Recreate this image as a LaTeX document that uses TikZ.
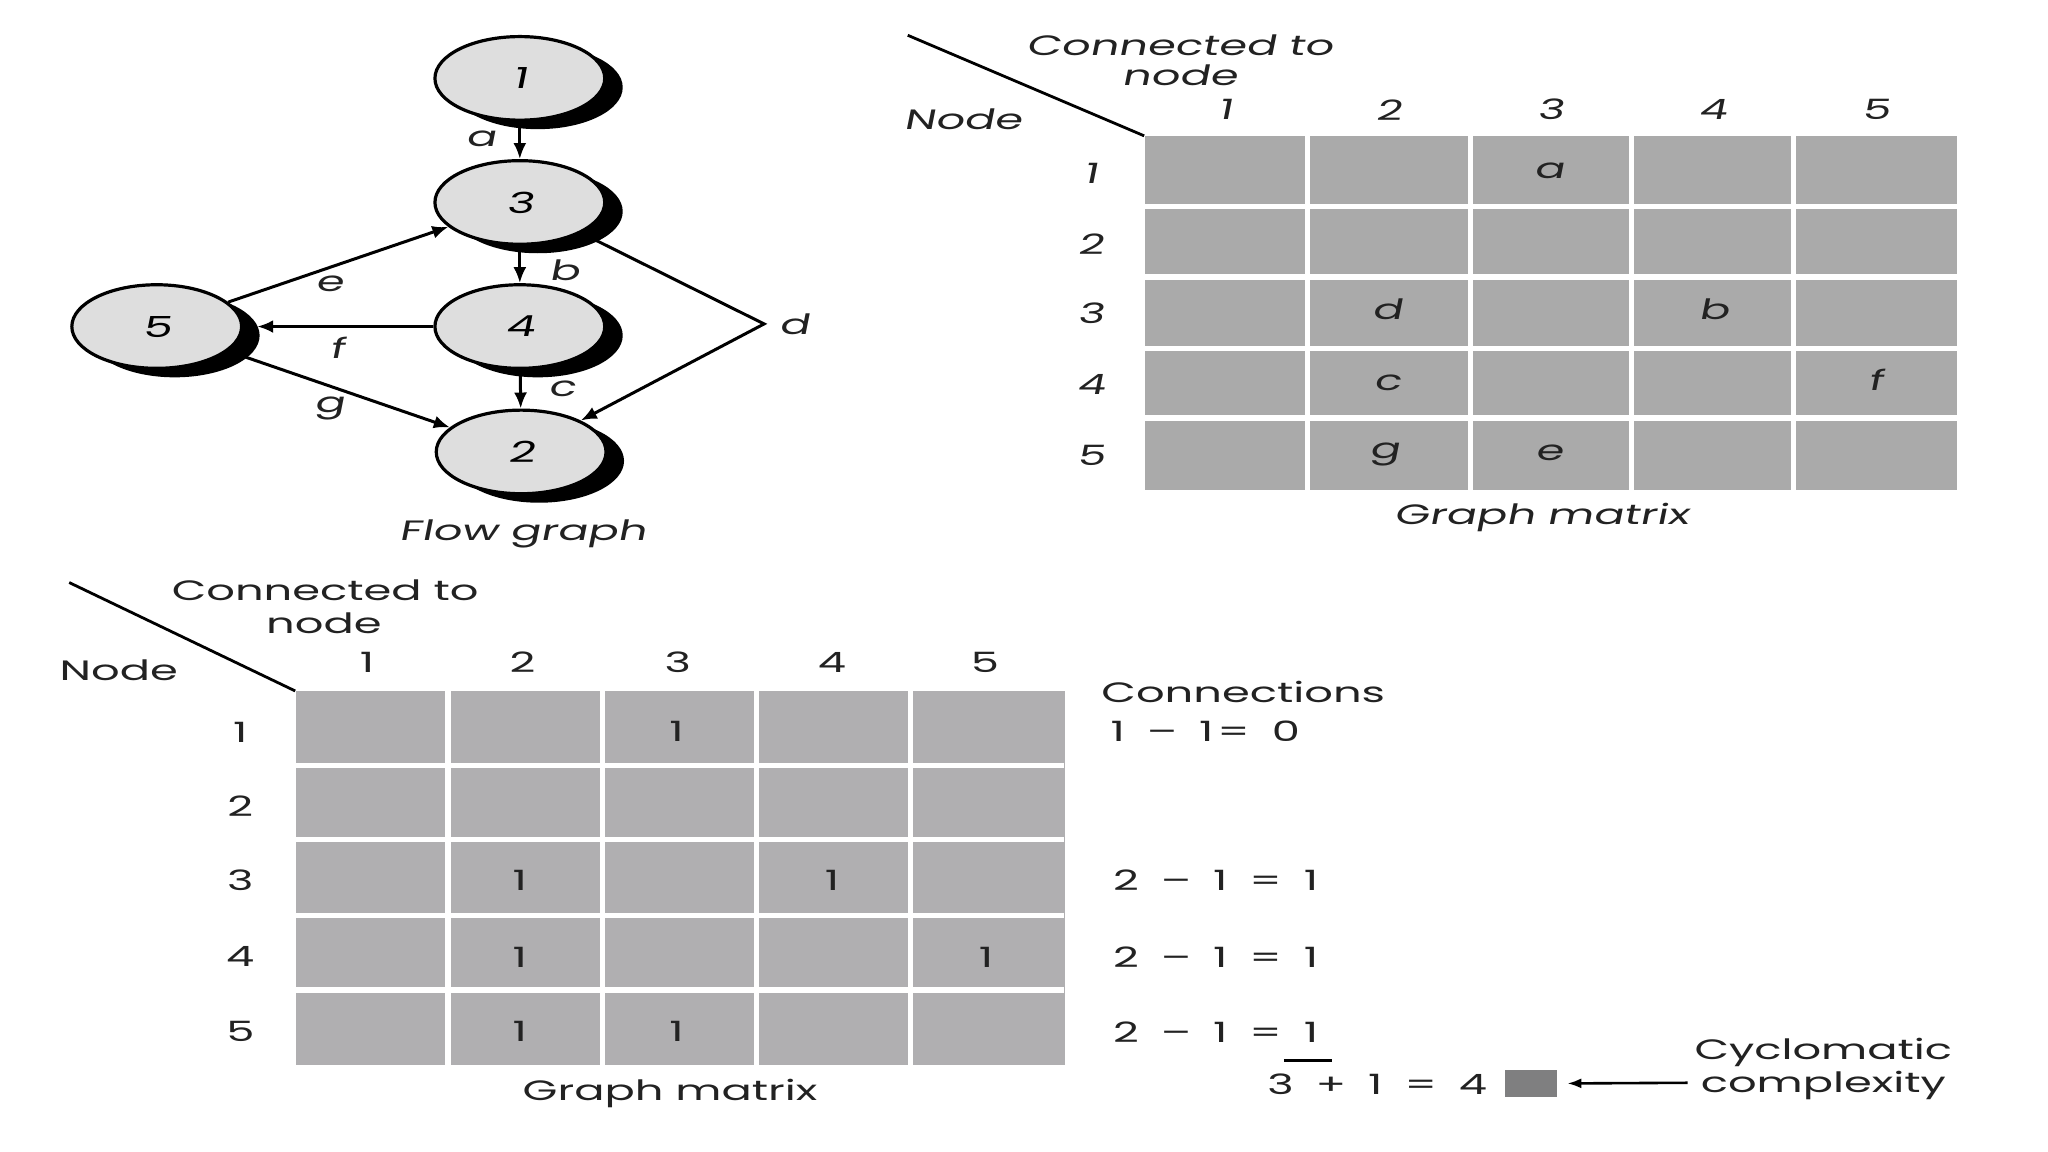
\documentclass[tikz,border=0pt]{standalone}
\usepackage{fontspec}
\setmainfont[FakeStretch=1.6]{Poppins}
\newfontfamily\obl[FakeStretch=1.6,FakeSlant=0.2]{Poppins}
\usetikzlibrary{shapes.geometric,shadows,arrows.meta}
\definecolor{nodefill}{HTML}{DEDEDE}
\definecolor{cellA}{HTML}{AAAAAA}
\definecolor{cellB}{HTML}{B0AFB1}
\definecolor{ccgray}{HTML}{7F7F80}
\definecolor{txt}{HTML}{222222}
\def\u{0.6531pt}
\newcommand{\eqg}{\hspace{5pt}}
\begin{document}
\begin{tikzpicture}[x=0.6531pt,y=-0.6531pt,
  fg/.style={ellipse, draw=black, line width=1.6pt, fill=nodefill,
    minimum width=130*\u, minimum height=64*\u, inner sep=0pt,
    font=\obl\fontsize{14.5}{16}\selectfont,
    drop shadow={shadow xshift=9pt, shadow yshift=-4.5pt, fill=black, opacity=1}},
  fedge/.style={line width=1.5pt, -{Latex[length=8pt,width=6.5pt]}},
  plainline/.style={line width=1.4pt},
  otext/.style={inner sep=0pt, text=txt, font=\obl\fontsize{14}{16}\selectfont},
  utext/.style={inner sep=0pt, text=txt, font=\fontsize{14}{16}\selectfont},
  gridA/.style={fill=cellA, inner sep=0pt, anchor=north west},
  gridB/.style={fill=cellB, inner sep=0pt, anchor=north west},
  sep/.style={white, line width=2.6pt}
]
\useasboundingbox (0,0) rectangle (1568,882);
\fill[white] (0,0) rectangle (1568,882);

% ---------------- Flow graph ----------------
\node[fg] (n1) at (398,60) {1};
\node[fg] (n3) at (398,155) {3};
\node[fg] (n4) at (398,250) {4};
\node[fg] (n2) at (399,346) {2};
\node[fg] (n5) at (120,250) {5};
\coordinate (dpt) at (585,248);

\draw[fedge] (n1) -- (n3);
\draw[fedge] (n3) -- (n4);
\draw[fedge] (n4) -- (n2);
\draw[fedge] (n3) -- (dpt) -- (n2);
\draw[fedge] (n5) -- (n3);
\draw[fedge] (n4.west) -- ([xshift=7pt]n5.east);
\draw[fedge] (n5) -- (n2);

\node[otext] (la) at (368,106) {a};
\node[otext] (lb) at (432,207) {b};
\node[otext] (lc) at (430,298) {c};
\node[otext] (ld) at (608,248) {d};
\node[otext] (le) at (252,217) {e};
\node[otext] (lf) at (258,266) {f};
\node[otext] (lg) at (252,313) {g};
\node[otext] (fgcap) at (400,409) {Flow graph};

% ---------------- Top graph matrix ----------------
\node[gridA, minimum width=622*\u, minimum height=271*\u] (ga) at (876,104) {};
\foreach \x in {1001,1126,1249,1373} \draw[sep] (\x,104) -- (\x,375);
\foreach \y in {158,212,267,320} \draw[sep] (876,\y) -- (1498,\y);
\coordinate (gadiag) at (695,27);
\draw[plainline] (gadiag) -- (ga.north west);
\node[otext] (ga-ct) at (903,35) {Connected to};
\node[otext] (ga-cn) at (903,58) {node};
\node[otext] (ga-nd) at (737,91) {Node};
\foreach \x/\t in {938/1,1063/2,1187/3,1311/4,1436/5}
  \node[otext] (ga-c\t) at (\x,84) {\t};
\foreach \y/\t in {133/1,187/2,240/3,294/4,349/5}
  \node[otext] (ga-r\t) at (835,\y) {\t};
\node[otext] (ga-a) at (1186,131) {a};
\node[otext] (ga-d) at (1062,237) {d};
\node[otext] (ga-b) at (1312,237) {b};
\node[otext] (ga-c) at (1062,293) {c};
\node[otext] (ga-f) at (1436,291) {f};
\node[otext] (ga-g) at (1060,348) {g};
\node[otext] (ga-e) at (1186,347) {e};
\node[otext] (ga-cap) at (1180,396) {Graph matrix};

% ---------------- Bottom graph matrix ----------------
\node[gridB, minimum width=589*\u, minimum height=286*\u] (gb) at (226,529) {};
\foreach \x in {343,461,579,697} \draw[sep] (\x,529) -- (\x,815);
\foreach \y in {586,643,701,758} \draw[sep] (226,\y) -- (815,\y);
\coordinate (gbdiag) at (53,446);
\draw[plainline] (gbdiag) -- (gb.north west);
\node[utext] (gb-ct) at (249,452) {Connected to};
\node[utext] (gb-cn) at (248,477) {node};
\node[utext] (gb-nd) at (91,513) {Node};
\foreach \x/\t in {281/1,400/2,519/3,637/4,754/5}
  \node[utext] (gb-c\t) at (\x,507) {\t};
\foreach \y/\t in {561/1,617/2,674/3,732/4,790/5}
  \node[utext] (gb-r\t) at (184,\y) {\t};
\node[utext] (gb-e13) at (518,560) {1};
\node[utext] (gb-e32) at (398,674) {1};
\node[utext] (gb-e34) at (637,674) {1};
\node[utext] (gb-e42) at (398,733) {1};
\node[utext] (gb-e45) at (755,733) {1};
\node[utext] (gb-e52) at (398,790) {1};
\node[utext] (gb-e53) at (518,790) {1};
\node[utext] (gb-cap) at (513,837) {Graph matrix};

% ---------------- Connections ----------------
\node[utext, anchor=west] (cn) at (843,530) {Connections};
\node[utext, anchor=west] (cn1) at (850,560) {1\eqg{} –\eqg{} 1\hspace{2pt}=\eqg{} 0};
\node[utext, anchor=west] (cn3) at (852,674) {2\eqg{} –\eqg{} 1\eqg{} =\eqg{} 1};
\node[utext, anchor=west] (cn4) at (852,733) {2\eqg{} –\eqg{} 1\eqg{} =\eqg{} 1};
\node[utext, anchor=west] (cn5) at (852,790) {2\eqg{} –\eqg{} 1\eqg{} =\eqg{} 1};
\draw[line width=1.1pt] (983,812) -- (1020,812);
\node[utext, anchor=west] (sum) at (970,830) {3\eqg{} +\eqg{} 1\eqg{} =\eqg{} 4};
\node[fill=ccgray, inner sep=0pt, minimum width=40*\u, minimum height=21*\u] (cc) at (1172,829.5) {};
\coordinate (ccarr) at (1292,829);
\draw[line width=1.3pt, -{Latex[length=7pt,width=5pt]}] (ccarr) -- ([xshift=5pt]cc.east);
\node[utext] (cyc1) at (1396,806) {Cyclomatic};
\node[utext] (cyc2) at (1396,831) {complexity};
\end{tikzpicture}
\end{document}
